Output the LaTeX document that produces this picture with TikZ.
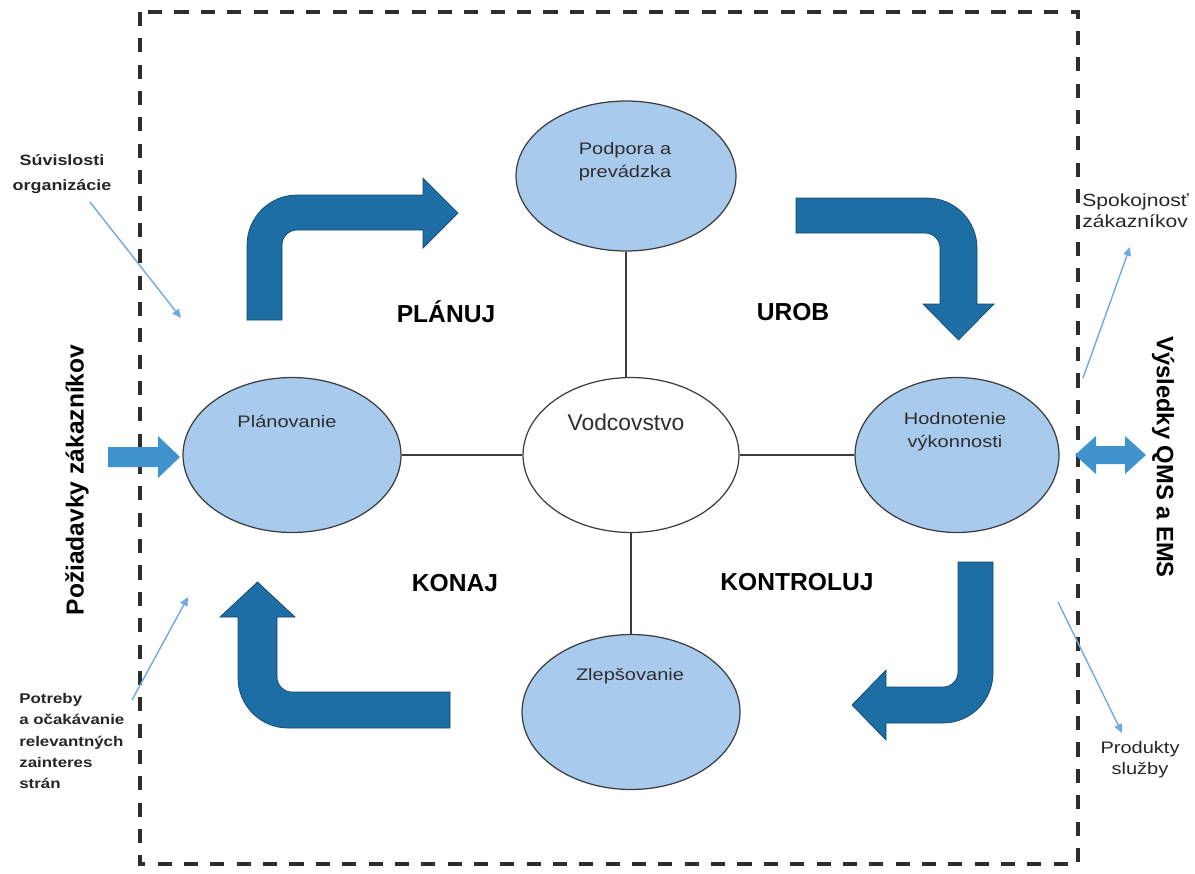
\documentclass[tikz,border=0pt]{standalone}
\usepackage{fontspec}
\setmainfont{Liberation Sans}
\newfontfamily\widefont{Liberation Sans}[FakeStretch=1.2]
\usetikzlibrary{arrows.meta,shapes.geometric,calc}
\definecolor{ellblue}{RGB}{168,202,236}
\definecolor{bentblue}{RGB}{28,110,164}
\definecolor{bentedge}{RGB}{20,70,110}
\definecolor{smallblue}{RGB}{64,146,205}
\definecolor{noteblue}{RGB}{110,170,225}
\definecolor{lineg}{RGB}{60,60,60}
\definecolor{borderg}{RGB}{45,45,45}
\begin{document}
\begin{tikzpicture}[x=0.02cm,y=-0.02cm,
  ell/.style={ellipse, draw=lineg, line width=0.7pt, fill=ellblue, inner sep=0pt, minimum height=3.1cm},
  elltext/.style={font=\widefont\fontsize{9.5pt}{13pt}\selectfont, align=center, text=black!82, inner sep=0pt},
  phase/.style={font=\bfseries\fontsize{14pt}{16pt}\selectfont, inner sep=0pt},
  sidetitle/.style={font=\bfseries\fontsize{14pt}{16pt}\selectfont, inner sep=0pt},
  leftnote/.style={font=\widefont\bfseries\fontsize{8.5pt}{14pt}\selectfont, inner sep=0pt, text=black!85},
  rightnote/.style={font=\widefont\fontsize{10pt}{12pt}\selectfont, inner sep=0pt, text=black!85},
  bent/.style={fill=bentblue, draw=bentedge, line width=0.4pt},
  smallarrow/.style={fill=smallblue},
  conn/.style={draw=lineg, line width=0.8pt},
  note/.style={draw=noteblue, line width=0.8pt, -{Triangle[length=5pt,width=4.5pt]}},
  border/.style={draw=borderg, line width=1.8pt, dash pattern=on 8pt off 7pt}
]
\useasboundingbox (0,0) rectangle (1195,873);

% dashed frame
\draw[border] (140,12) rectangle (1078,864);

% ellipses
\node[ell, minimum width=4.4cm, minimum height=3.0cm] (podpora) at (626,176) {};
\node[ell, minimum width=4.36cm] (plan) at (292,455) {};
\node[ell, minimum width=4.32cm, fill=white] (vod) at (631,455) {};
\node[ell, minimum width=4.08cm] (hodn) at (957,455) {};
\node[ell, minimum width=4.36cm] (zlep) at (631,712) {};

% ellipse texts
\node[elltext] (podT) at ($(podpora)+(-1,-14)$) {Podpora a\\prevádzka};
\node[elltext] (planT) at ($(plan)+(-5,-34)$) {Plánovanie};
\node[elltext, font=\fontsize{13pt}{15pt}\selectfont] (vodT) at ($(vod)+(-5,-33)$) {Vodcovstvo};
\node[elltext] (hodT) at ($(hodn)+(-2,-23)$) {Hodnotenie\\výkonnosti};
\node[elltext] (zlepT) at ($(zlep)+(-1,-36)$) {Zlepšovanie};

% connectors
\draw[conn] (podpora.south) -- (podpora.south |- vod.north);
\draw[conn] (plan.east) -- (vod.west);
\draw[conn] (vod.east) -- (hodn.west);
\draw[conn] (vod.south) -- (zlep.north);

% bent arrows
\draw[bent] (247,320) -- (247,245) .. controls (247,217.4) and (269.4,195) .. (297,195) -- (423,195) -- (423,178) -- (458,213) -- (423,248) -- (423,230) -- (297,230) .. controls (288.7,230) and (282,236.7) .. (282,245) -- (282,320) -- cycle;
\draw[bent] (796,198) -- (927,198) .. controls (954.6,198) and (977,220.4) .. (977,248) -- (977,304) -- (994,304) -- (958.5,340) -- (923,304) -- (940,304) -- (940,248) .. controls (940,239.7) and (933.3,233) .. (925,233) -- (796,233) -- cycle;
\draw[bent] (958,562) -- (993,562) -- (993,673) .. controls (993,700.6) and (970.6,723) .. (943,723) -- (886,723) -- (886,740) -- (852,705) -- (886,670) -- (886,687) -- (943,687) .. controls (951.3,687) and (958,680.3) .. (958,672) -- cycle;
\draw[bent] (450,692) -- (292,692) .. controls (283.7,692) and (277,685.3) .. (277,677) -- (277,617) -- (295,617) -- (257.5,582) -- (220,617) -- (238,617) -- (238,678) .. controls (238,705.6) and (260.4,728) .. (288,728) -- (450,728) -- cycle;

% phase labels
\node[phase] (lplan) at (446,312) {PLÁNUJ};
\node[phase] (lurob) at (793,312) {UROB};
\node[phase] (lkonaj) at (455,583) {KONAJ};
\node[phase] (lkontrol) at (797,582) {KONTROLUJ};

% input / output arrows
\fill[smallarrow] (108,447) -- (158,447) -- (158,436) -- (180,457) -- (158,478) -- (158,467) -- (108,467) -- cycle;
\fill[smallarrow] (1075,455) -- (1096,436) -- (1096,446) -- (1125,446) -- (1125,436) -- (1146,455) -- (1125,474) -- (1125,464) -- (1096,464) -- (1096,474) -- cycle;

% side titles
\node[sidetitle, rotate=90] (poz) at (77,480) {Požiadavky zákazníkov};
\node[sidetitle, rotate=-90, font=\bfseries\fontsize{13.5pt}{16pt}\selectfont] (vys) at (1163,457) {Výsledky QMS a EMS};

% notes
\node[leftnote, align=center] (suv) at (62,174) {Súvislosti\\organizácie};
\node[leftnote, align=left, anchor=west, font=\widefont\bfseries\fontsize{8pt}{12pt}\selectfont] (potr) at (19,741) {Potreby\\a očakávanie\\relevantných\\zainteres\\strán};
\node[rightnote, align=left, anchor=west] (spok) at (1082,211) {Spokojnosť\\zákazníkov};
\node[rightnote, align=center, font=\widefont\fontsize{9.5pt}{12pt}\selectfont] (prod) at (1140,760) {Produkty\\služby};

\coordinate (n1s) at (90,202);
\coordinate (n1e) at (181,318);
\coordinate (n2s) at (132,700);
\coordinate (n2e) at (188,597);
\coordinate (n3s) at (1083,378);
\coordinate (n3e) at (1130,247);
\coordinate (n4s) at (1058,602);
\coordinate (n4e) at (1122,733);
\draw[note] (n1s) -- (n1e);
\draw[note] (n2s) -- (n2e);
\draw[note] (n3s) -- (n3e);
\draw[note] (n4s) -- (n4e);
\end{tikzpicture}
\end{document}
